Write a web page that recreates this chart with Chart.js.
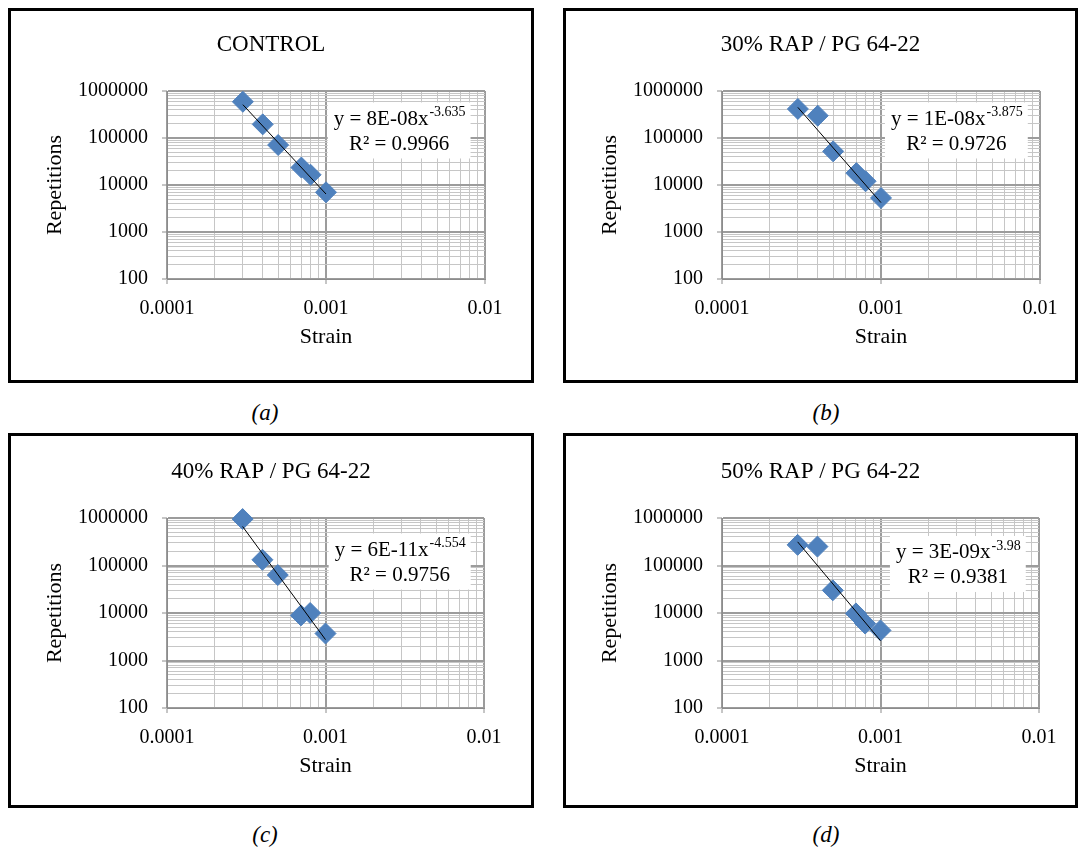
<!DOCTYPE html>
<html>
<head>
<meta charset="utf-8">
<script src="https://cdn.jsdelivr.net/npm/chart.js@4.4.0/dist/chart.umd.min.js"></script>
<style>
  html, body { margin: 0; padding: 0; background: #fff; }
  body {
    width: 1078px; height: 849px; position: relative; overflow: hidden;
    font-family: "Liberation Serif", "Times New Roman", serif;
  }
  .panel { position: absolute; box-sizing: border-box; border: 3px solid #000; background: #fff; }
  .panel canvas { display: block; }
  .caption {
    position: absolute; font-style: italic; font-size: 23px; color: #000;
    transform: translate(-50%, -50%); white-space: nowrap;
  }
</style>
</head>
<body>
<div class="panel" id="panel-a"><canvas id="chart-a"></canvas></div>
<div class="panel" id="panel-b"><canvas id="chart-b"></canvas></div>
<div class="panel" id="panel-c"><canvas id="chart-c"></canvas></div>
<div class="panel" id="panel-d"><canvas id="chart-d"></canvas></div>

<script>
// ---- data ----
const strain = [0.0003, 0.0004, 0.0005, 0.0007, 0.0008, 0.001];
const controlReps = [590000, 195000, 71000, 23500, 16500, 7000];
const rap30Reps = [415000, 298000, 52000, 17900, 12000, 5300];
const rap40Reps = [950000, 132000, 63000, 8900, 10000, 3700];
const rap50Reps = [272000, 250000, 30000, 9800, 6000, 4300];

// power-law trendlines, value at first and last strain
const trendStrain = [0.0003, 0.001];
const controlTrend = [512000, 6430];
const rap30Trend = [448000, 4220];
const rap40Trend = [662000, 2750];
const rap50Trend = [315000, 2610];

const panelTitles = ['CONTROL', '30% RAP / PG 64-22', '40% RAP / PG 64-22', '50% RAP / PG 64-22'];
const coefficients = ['8E-08', '1E-08', '6E-11', '3E-09'];
const exponents = ['-3.635', '-3.875', '-4.554', '-3.98'];
const rSquared = ['0.9966', '0.9726', '0.9756', '0.9381'];
const captions = ['(a)', '(b)', '(c)', '(d)'];

const xTickLabels = ['0.0001', '0.001', '0.01'];
const yTickLabels = ['100', '1000', '10000', '100000', '1000000'];
const xTitle = 'Strain';
const yTitle = 'Repetitions';

// ---- layout (page pixels) ----
const panels = [
  { id: 'a', box: [8, 8, 526, 375], plot: [167, 485, 91, 279], eq: [0.73, 0.21], cap: [265, 413] },
  { id: 'b', box: [563, 8, 515, 375], plot: [722, 1040, 91, 279], eq: [0.737, 0.21], cap: [826, 413] },
  { id: 'c', box: [8, 433, 526, 375], plot: [167, 484, 518, 708], eq: [0.734, 0.229], cap: [265, 835] },
  { id: 'd', box: [563, 433, 515, 375], plot: [722, 1039, 518, 708], eq: [0.744, 0.242], cap: [826, 835] },
];
const series = [controlReps, rap30Reps, rap40Reps, rap50Reps];
const trends = [controlTrend, rap30Trend, rap40Trend, rap50Trend];

const FONT = '"Liberation Serif", "Times New Roman", serif';
const BORDER = 3;
const Y_TITLE_X = 44.7; // centre of the rotated axis title, from the canvas' left edge

function gridValues(labels) {
  const decades = labels.map(Number);
  const out = [];
  decades.forEach((d, i) => {
    if (i === decades.length - 1) { out.push(d); return; }
    for (let m = 1; m <= 9; m++) out.push(Number((m * d).toPrecision(6)));
  });
  return out;
}

function isDecade(v) {
  if (!v) return false;
  const l = Math.log10(v);
  return Math.abs(l - Math.round(l)) < 1e-6;
}

function labelFor(labels, v) {
  const hit = labels.find((l) => Math.abs(Number(l) / v - 1) < 1e-6);
  return hit || '';
}

const gridStyle = {
  color: (c) => (isDecade(c.tick && c.tick.value) ? '#9c9c9c' : '#c6c6c6'),
  lineWidth: (c) => (isDecade(c.tick && c.tick.value) ? 2 : 1),
  tickColor: (c) => (isDecade(c.tick && c.tick.value) ? '#8c8c8c' : 'rgba(0,0,0,0)'),
  tickWidth: 1,
  tickLength: 5,
};

// Excel-style trendline label box
const equationBox = {
  id: 'equationBox',
  afterDatasetsDraw(chart, args, opts) {
    const { ctx, chartArea: a } = chart;
    const cx = a.left + opts.fx * (a.right - a.left);
    const cy = a.top + opts.fy * (a.bottom - a.top);
    const main = `y = ${opts.coef}x`;
    const line2 = `R\u00b2 = ${opts.r2}`;
    ctx.save();
    ctx.font = `21px ${FONT}`;
    const wMain = ctx.measureText(main).width;
    const w2 = ctx.measureText(line2).width;
    ctx.font = `14px ${FONT}`;
    const wExp = ctx.measureText(opts.exp).width;
    const w = Math.max(wMain + wExp, w2) + 12;
    const h = 56;
    ctx.fillStyle = '#fff';
    ctx.fillRect(cx - w / 2, cy - h / 2, w, h);

    ctx.fillStyle = '#000';
    ctx.textBaseline = 'middle';
    ctx.textAlign = 'left';
    const x1 = cx - (wMain + wExp) / 2;
    ctx.font = `21px ${FONT}`;
    ctx.fillText(main, x1, cy - 11);
    ctx.font = `14px ${FONT}`;
    ctx.fillText(opts.exp, x1 + wMain + 1, cy - 18);
    ctx.font = `21px ${FONT}`;
    ctx.textAlign = 'center';
    ctx.fillText(line2, cx, cy + 14);
    ctx.restore();
  },
};

function buildChart(p, idx) {
  const [bx, by, bw, bh] = p.box;
  const panelEl = document.getElementById('panel-' + p.id);
  Object.assign(panelEl.style, { left: bx + 'px', top: by + 'px', width: bw + 'px', height: bh + 'px' });

  const cw = bw - 2 * BORDER;
  const ch = bh - 2 * BORDER;
  const ox = bx + BORDER;
  const oy = by + BORDER;
  const plotL = p.plot[0] - ox;
  const plotR = p.plot[1] - ox;
  const plotT = p.plot[2] - oy;
  const plotB = p.plot[3] - oy;

  const canvas = document.getElementById('chart-' + p.id);
  canvas.width = cw;
  canvas.height = ch;

  const titleSize = 23;
  const titleCenter = plotT - 46;
  const titleLine = titleSize * 1.2;
  const xAxisHeight = 71;
  const axisTitleSize = 22;

  const cap = document.createElement('div');
  cap.className = 'caption';
  cap.textContent = captions[idx];
  cap.style.left = p.cap[0] + 'px';
  cap.style.top = p.cap[1] + 'px';
  document.body.appendChild(cap);

  return new Chart(canvas, {
    type: 'scatter',
    data: {
      datasets: [
        {
          label: 'Trend',
          data: trendStrain.map((x, i) => ({ x, y: trends[idx][i] })),
          showLine: true,
          borderColor: '#000',
          borderWidth: 1,
          pointRadius: 0,
          clip: false,
        },
        {
          label: 'Repetitions',
          data: strain.map((x, i) => ({ x, y: series[idx][i] })),
          pointStyle: 'rectRot',
          pointRadius: 10.5,
          pointBorderWidth: 1,
          backgroundColor: '#4f81bd',
          borderColor: '#4f81bd',
          clip: false,
        },
      ],
    },
    options: {
      responsive: false,
      animation: false,
      events: [],
      layout: { padding: { left: 0, right: 0, top: 0, bottom: ch - plotB - xAxisHeight } },
      plugins: {
        legend: { display: false },
        tooltip: { enabled: false },
        title: {
          display: true,
          text: panelTitles[idx],
          color: '#000',
          font: { family: FONT, size: titleSize, weight: 'normal' },
          padding: { top: titleCenter - titleLine / 2, bottom: plotT - titleCenter - titleLine / 2 },
        },
        equationBox: {
          fx: p.eq[0], fy: p.eq[1],
          coef: coefficients[idx], exp: exponents[idx], r2: rSquared[idx],
        },
      },
      scales: {
        x: {
          type: 'logarithmic',
          min: Number(xTickLabels[0]),
          max: Number(xTickLabels[xTickLabels.length - 1]),
          afterBuildTicks: (s) => { s.ticks = gridValues(xTickLabels).map((value) => ({ value })); },
          afterFit: (s) => { s.height = xAxisHeight; },
          ticks: {
            autoSkip: false, maxRotation: 0, padding: 13, color: '#000',
            font: { family: FONT, size: 20 },
            callback: (v) => labelFor(xTickLabels, v),
          },
          grid: gridStyle,
          border: { color: '#8c8c8c', width: 1 },
          title: {
            display: true, text: xTitle, color: '#000',
            font: { family: FONT, size: axisTitleSize },
            padding: { top: 0, bottom: 0 },
          },
        },
        y: {
          type: 'logarithmic',
          min: Number(yTickLabels[0]),
          max: Number(yTickLabels[yTickLabels.length - 1]),
          afterBuildTicks: (s) => { s.ticks = gridValues(yTickLabels).map((value) => ({ value })); },
          afterFit: (s) => { s.width = plotL; },
          ticks: {
            autoSkip: false, padding: 14, color: '#000',
            font: { family: FONT, size: 20 },
            callback: (v) => labelFor(yTickLabels, v),
          },
          grid: gridStyle,
          border: { color: '#8c8c8c', width: 1 },
          title: {
            display: true, text: yTitle, color: '#000',
            font: { family: FONT, size: axisTitleSize },
            padding: { top: Y_TITLE_X - axisTitleSize * 0.6, bottom: 0 },
          },
        },
        // blank right gutter so the panel title stays centred on the panel
        gutter: {
          type: 'linear',
          position: 'right',
          grid: { display: false },
          ticks: { display: false },
          border: { display: false },
          afterFit: (s) => { s.width = cw - plotR; },
        },
      },
    },
    plugins: [equationBox],
  });
}

panels.forEach(buildChart);
</script>
</body>
</html>
